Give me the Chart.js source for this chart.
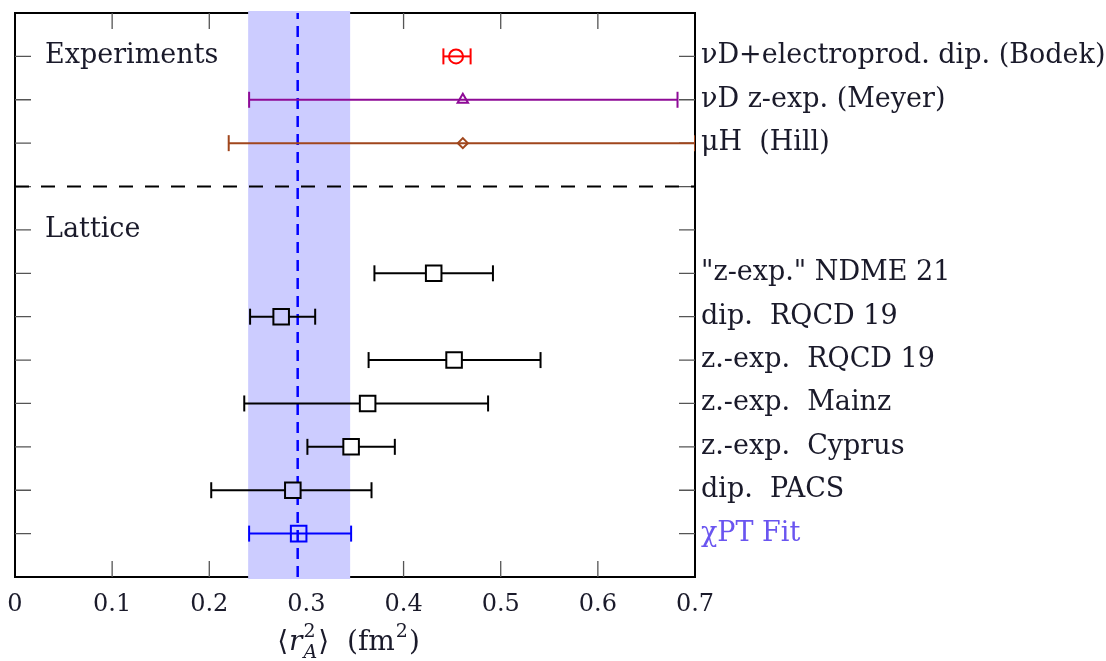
<!DOCTYPE html>
<html lang="en">
<head>
<meta charset="UTF-8">
<title>axial radius</title>
<style>
  body { margin: 0; background: #fff; }
  #wrap { width: 1106px; height: 661px; }
</style>
</head>
<body>
<div id="wrap"><canvas id="myChart"></canvas></div>

<script src="https://cdn.jsdelivr.net/npm/chart.js@4.4.0/dist/chart.umd.min.js"></script>
<script>
// one entry per row, top to bottom
const rowLabels = [
  'νD+electroprod. dip. (Bodek)',
  'νD z-exp. (Meyer)',
  'μH  (Hill)',
  '"z-exp." NDME 21',
  'dip.  RQCD 19',
  'z.-exp.  RQCD 19',
  'z.-exp.  Mainz',
  'z.-exp.  Cyprus',
  'dip.  PACS',
  'χPT Fit'
];
const rowPos   = [12, 11, 10, 7, 6, 5, 4, 3, 2, 1];
const centers  = [0.454, 0.461, 0.461, 0.431, 0.274, 0.452, 0.363, 0.346, 0.286, 0.292];
const errLow   = [0.441, 0.241, 0.220, 0.370, 0.242, 0.364, 0.236, 0.301, 0.202, 0.241];
const errHigh  = [0.469, 0.682, 0.700, 0.492, 0.309, 0.541, 0.487, 0.391, 0.367, 0.346];
const rowColors = ['#ff0000', '#8e0a96', '#a0461c', '#000', '#000', '#000', '#000', '#000', '#000', '#0000ff'];
const markerStyles = ['circle', 'triangle', 'rectRot', 'rect', 'rect', 'rect', 'rect', 'rect', 'rect', 'rect'];
const markerSizes  = [7, 6, 5, 11, 11, 11, 11, 11, 11, 11];

// fit band and central value
const bandLow = 0.24;
const bandHigh = 0.345;
const fitCenter = 0.291;
const separatorRow = 9;
const groupTitles = [{ text: 'Experiments', row: 12 }, { text: 'Lattice', row: 8 }];

const bandColor = '#ccccff';
const textColor = '#1a1a2a';
const fitLabelColor = '#6a55f0';
const serif = '"DejaVu Serif", "Liberation Serif", serif';

// marker fill: open symbols, lattice squares hide the bar behind them
const markerFill = centers.map((c, i) => {
  if (markerStyles[i] !== 'rect' || rowColors[i] !== '#000') return 'rgba(0,0,0,0)';
  return (c >= bandLow && c <= bandHigh) ? bandColor : '#fff';
});

const datasets = [];
datasets.push({
  label: 'markers',
  data: centers.map((c, i) => ({ x: c, y: rowPos[i] })),
  pointStyle: markerStyles,
  pointRadius: markerSizes,
  pointBorderColor: rowColors,
  pointBackgroundColor: markerFill,
  pointBorderWidth: 2,
  showLine: false
});
centers.forEach((c, i) => {
  datasets.push({
    label: 'err ' + i,
    data: [{ x: errLow[i], y: rowPos[i] }, { x: errHigh[i], y: rowPos[i] }],
    showLine: true,
    borderColor: rowColors[i],
    borderWidth: 2,
    pointStyle: 'line',
    pointRotation: 90,
    pointRadius: 8,
    pointBorderColor: rowColors[i],
    pointBorderWidth: 2
  });
});
datasets.push({
  label: 'fit line',
  data: [{ x: fitCenter, y: 0 }, { x: fitCenter, y: 13 }],
  showLine: true,
  borderColor: '#0000ff',
  borderWidth: 2.5,
  borderDash: [11, 7],
  pointRadius: 0
});
datasets.push({
  label: 'separator',
  data: [{ x: 0, y: separatorRow }, { x: 0.7, y: separatorRow }],
  showLine: true,
  borderColor: '#000',
  borderWidth: 2,
  borderDash: [14, 12],
  pointRadius: 0
});

// inward ticks, the band and the group titles
const frameStuff = {
  id: 'frameStuff',
  beforeDatasetsDraw(chart) {
    const { ctx, chartArea: a, scales } = chart;
    ctx.save();
    ctx.strokeStyle = '#555';
    ctx.lineWidth = 1.3;
    ctx.beginPath();
    scales.x.ticks.forEach(t => {
      if (t.value <= 0 || t.value >= 0.7) return;
      const px = scales.x.getPixelForValue(t.value);
      ctx.moveTo(px, a.top); ctx.lineTo(px, a.top + 16);
      ctx.moveTo(px, a.bottom); ctx.lineTo(px, a.bottom - 16);
    });
    scales.y.ticks.forEach(t => {
      if (t.value <= 0 || t.value >= 13) return;
      const py = scales.y.getPixelForValue(t.value);
      ctx.moveTo(a.left, py); ctx.lineTo(a.left + 16, py);
      ctx.moveTo(a.right, py); ctx.lineTo(a.right - 16, py);
    });
    ctx.stroke();

    const x0 = scales.x.getPixelForValue(bandLow);
    const x1 = scales.x.getPixelForValue(bandHigh);
    ctx.fillStyle = bandColor;
    ctx.fillRect(x0, a.top - 2, x1 - x0, a.bottom - a.top + 4);

    ctx.fillStyle = textColor;
    ctx.font = '27px ' + serif;
    ctx.textBaseline = 'middle';
    groupTitles.forEach(g => {
      ctx.fillText(g.text, a.left + 30, scales.y.getPixelForValue(g.row));
    });
    ctx.restore();
  },
  afterDraw(chart) {
    // axis title  <r_A^2> (fm^2)
    const { ctx, chartArea: a } = chart;
    const cx = (a.left + a.right) / 2 - 6;
    const base = 650;
    ctx.save();
    ctx.fillStyle = textColor;
    ctx.textBaseline = 'alphabetic';
    const parts = [
      { t: '⟨', f: '28px ' + serif, dy: 0 },
      { t: 'r', f: 'italic 28px ' + serif, dy: 0 },
      { t: '2', f: '19px ' + serif, dy: -13, stack: { t: 'A', f: 'italic 19px ' + serif, dy: 8 } },
      { t: '⟩  (fm', f: '28px ' + serif, dy: 0 },
      { t: '2', f: '19px ' + serif, dy: -13 },
      { t: ')', f: '28px ' + serif, dy: 0 }
    ];
    let total = 0;
    parts.forEach(p => {
      ctx.font = p.f;
      let w = ctx.measureText(p.t).width;
      if (p.stack) { ctx.font = p.stack.f; w = Math.max(w, ctx.measureText(p.stack.t).width); }
      p.w = w + 1;
      total += p.w;
    });
    let x = cx - total / 2;
    parts.forEach(p => {
      ctx.font = p.f;
      ctx.fillText(p.t, x, base + p.dy);
      if (p.stack) { ctx.font = p.stack.f; ctx.fillText(p.stack.t, x, base + p.stack.dy); }
      x += p.w;
    });
    ctx.restore();
  }
};

// fixed box sizes, and no extra room for overhanging labels
function fixBox(w, h) {
  return s => {
    if (w !== null) s.width = w;
    if (h !== null) s.height = h;
    s.paddingTop = 0; s.paddingBottom = 0; s.paddingLeft = 0; s.paddingRight = 0;
  };
}

const config = {
  type: 'scatter',
  data: { datasets: datasets },
  options: {
    responsive: true,
    maintainAspectRatio: false,
    animation: false,
    layout: { padding: 0 },
    plugins: { legend: { display: false }, tooltip: { enabled: false } },
    scales: {
      x: {
        type: 'linear', position: 'bottom', min: 0, max: 0.7,
        grid: { display: false },
        border: { display: true, color: '#000', width: 2 },
        ticks: {
          stepSize: 0.1, padding: 5, color: textColor,
          font: { family: serif, size: 24 },
          callback: v => String(Math.round(v * 10) / 10)
        },
        afterFit: fixBox(null, 84)
      },
      x2: {
        type: 'linear', position: 'top', min: 0, max: 0.7,
        grid: { display: false },
        border: { display: true, color: '#000', width: 2 },
        ticks: { display: false },
        afterFit: fixBox(null, 9)
      },
      y: {
        type: 'linear', position: 'left', min: 0, max: 13,
        grid: { display: false },
        border: { display: true, color: '#000', width: 2 },
        ticks: { display: false, stepSize: 1 },
        afterFit: fixBox(15, null)
      },
      y2: {
        type: 'linear', position: 'right', min: 0, max: 13,
        grid: { display: false, drawTicks: false },
        border: { display: true, color: '#000', width: 2 },
        ticks: {
          stepSize: 1, autoSkip: false, padding: 6,
          font: { family: serif, size: 27 },
          color: c => (c.tick && c.tick.value === 1) ? fitLabelColor : textColor,
          callback: v => {
            const i = rowPos.indexOf(v);
            return i >= 0 ? rowLabels[i] : '';
          }
        },
        afterFit: fixBox(411, null)
      }
    }
  },
  plugins: [frameStuff]
};

const myChart = new Chart(document.getElementById('myChart'), config);
</script>
</body>
</html>
